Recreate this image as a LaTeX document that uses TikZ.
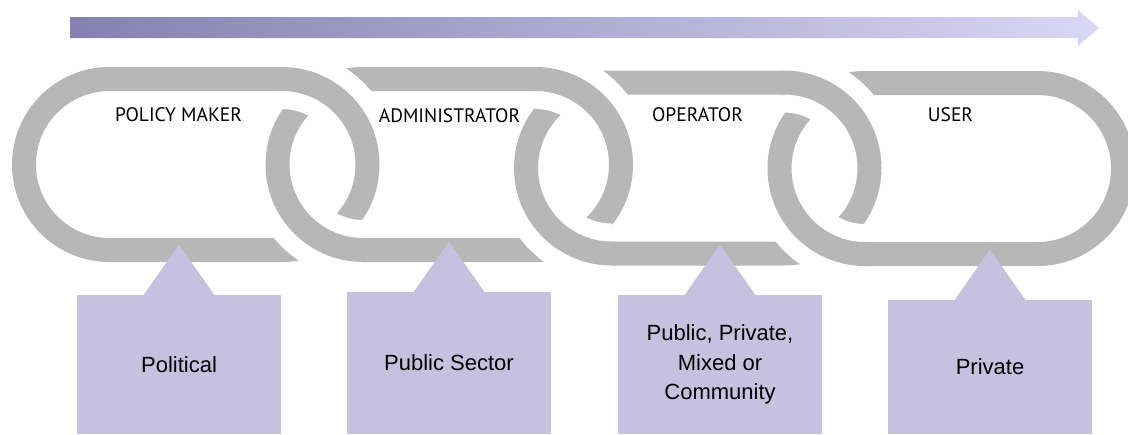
\documentclass[tikz,border=0pt]{standalone}
\usepackage{fontspec}
\setmainfont{Liberation Sans}
\newfontfamily\labelfont{PT Sans}

\definecolor{linkgray}{RGB}{183,183,183}
\definecolor{rolefill}{RGB}{197,193,222}
\definecolor{flowstart}{RGB}{133,128,175}
\definecolor{flowend}{RGB}{218,214,245}

\begin{document}
\begin{tikzpicture}[x=0.5pt, y=-0.5pt,
  chainlink/.style={draw=linkgray, line width=12pt},
  halo/.style={draw=white, line width=30pt},
  linklabel/.style={anchor=base, inner sep=0pt, font=\labelfont\fontsize{9.75}{11}\selectfont},
  rolebox/.style={fill=rolefill, minimum width=102pt, inner sep=0pt, align=center,
    font=\fontsize{11}{14.85}\selectfont}]
  \useasboundingbox (0,0) rectangle (1128,434);

  % the four links of the chain
  \foreach \lx/\cy in {109.5/164.5, 363/164.5, 611.5/168, 865/168.5}
    \draw[chainlink] (\lx,\cy-85.5) -- ({\lx+172.5},\cy-85.5)
      arc[start angle=-90, end angle=90, radius=85.5] -- (\lx,\cy+85.5)
      arc[start angle=90, end angle=270, radius=85.5] -- cycle;

  % where two links cross: top goes over the next link, bottom under it
  \foreach \lx/\cy/\nx/\ny in {109.5/164.5/363/164.5, 363/164.5/611.5/168, 611.5/168/865/168.5} {
    \draw[halo] ({\lx+172.5},\cy-85.5) arc[start angle=-90, end angle=-25, radius=85.5];
    \draw[chainlink] ({\lx+169},\cy-85.5) -- ++(3.5,0) arc[start angle=-90, end angle=-22, radius=85.5];
    \draw[halo] (\nx,\ny+85.5) arc[start angle=90, end angle=155, radius=85.5];
    \draw[chainlink] ({\nx+3.5},\ny+85.5) -- ++(-3.5,0) arc[start angle=90, end angle=158, radius=85.5];
  }

  % flow arrow
  \shade[left color=flowstart, right color=flowend] (70,17) -- (1078,17) -- (1078,10)
    -- (1099,28) -- (1078,46) -- (1078,38) -- (70,38) -- cycle;

  \node[linklabel] (policy) at (178.5,121) {POLICY MAKER};
  \node[linklabel] (admin) at (449.5,122) {ADMINISTRATOR};
  \node[linklabel] (oper) at (697.5,121) {OPERATOR};
  \node[linklabel] (user) at (950.5,121) {USER};

  \node[rolebox, minimum height=69.5pt] (political) at (179,364.5) {Political};
  \node[rolebox, minimum height=71pt] (public) at (449,363) {Public Sector};
  \node[rolebox, minimum height=69.5pt] (mixed) at (720,364.5) {Public, Private,\\Mixed or\\Community};
  \node[rolebox, minimum height=67pt] (private) at (990,367) {Private};
  \foreach \b in {political, public, mixed, private}
    \fill[rolefill] (\b.north) ++(-35.5,0.5) -- ++(35.5,-50.5) -- ++(35.5,50.5) -- cycle;
\end{tikzpicture}
\end{document}
